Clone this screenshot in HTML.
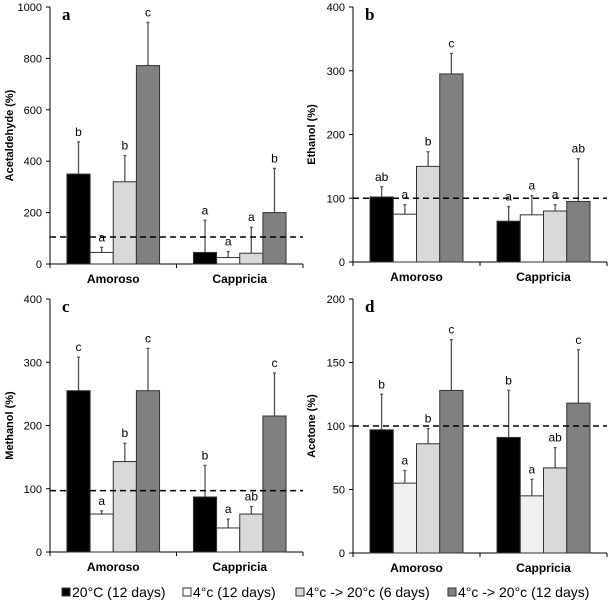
<!DOCTYPE html>
<html><head><meta charset="utf-8"><style>
body{margin:0;background:#fff;}
svg{display:block;font-family:"Liberation Sans",sans-serif;}
</style></head><body>
<svg id="chart" width="610" height="601" viewBox="0 0 610 601"></svg>
<script>
const categories = ["Amoroso","Cappricia"];
const seriesNames = ["20°C (12 days)","4°c (12 days)","4°c -> 20°c (6 days)","4°c -> 20°c (12 days)"];
const acetMeans = [[350,45,320,772],[45,25,42,200]];
const acetErr = [[475,65,422,940],[170,48,143,372]];
const acetLetters = [["b","a","b","c"],["a","a","a","b"]];
const ethMeans = [[102,75,150,295],[64,74,80,95]];
const ethErr = [[118,90,173,327],[87,104,90,162]];
const ethLetters = [["ab","a","b","c"],["a","a","a","ab"]];
const methMeans = [[255,60,143,255],[87,38,60,215]];
const methErr = [[308,65,172,322],[137,52,72,283]];
const methLetters = [["c","a","b","c"],["b","a","ab","c"]];
const aceMeans = [[97,55,86,128],[91,45,67,118]];
const aceErr = [[125,65,98,168],[128,58,83,160]];
const aceLetters = [["b","a","b","c"],["b","a","ab","c"]];
const acetTicks = [0,200,400,600,800,1000];
const ethTicks = [0,100,200,300,400];
const methTicks = [0,100,200,300,400];
const aceTicks = [0,50,100,150,200];
const refLines = [105,100,97,100];

const svg = document.getElementById('chart');
const NS = "http://www.w3.org/2000/svg";
function mk(tag, attrs, parent){const e=document.createElementNS(NS,tag);for(const k in attrs)e.setAttribute(k,attrs[k]);(parent||svg).appendChild(e);return e;}

const fills = ["#000000","#ffffff","#d9d9d9","#808080"];
const panels = [
 {id:"a",title:"Acetaldehyde (%)",tx:13,x0:50,x1:303,top:7,bot:264,max:1000,ticks:acetTicks,m:acetMeans,e:acetErr,l:acetLetters,ref:refLines[0],white:"#ffffff"},
 {id:"b",title:"Ethanol (%)",tx:315,x0:353,x1:607,top:7,bot:262,max:400,ticks:ethTicks,m:ethMeans,e:ethErr,l:ethLetters,ref:refLines[1],white:"#ffffff"},
 {id:"c",title:"Methanol (%)",tx:13,x0:50,x1:303,top:299,bot:552,max:400,ticks:methTicks,m:methMeans,e:methErr,l:methLetters,ref:refLines[2],white:"#ffffff"},
 {id:"d",title:"Acetone (%)",tx:315,x0:353,x1:607,top:299,bot:553,max:200,ticks:aceTicks,m:aceMeans,e:aceErr,l:aceLetters,ref:refLines[3],white:"#f0f0f0"}
];
panels.forEach(p=>{
  const g = mk('g',{});
  
  
  const y = v => p.bot - v/p.max*(p.bot-p.top);
  const cw = (p.x1-p.x0)/categories.length;
  const bw = cw*0.183;
  const ax = mk('line',{x1:p.x0,y1:p.top,x2:p.x0,y2:p.bot,stroke:"#000","stroke-width":1},g);
   
  const xa = mk('line',{x1:p.x0,y1:p.bot,x2:p.x1,y2:p.bot,stroke:"#000","stroke-width":1},g);
   
  for(let i=0;i<=categories.length;i++){
    mk('line',{x1:p.x0+i*cw,y1:p.bot,x2:p.x0+i*cw,y2:p.bot+4,stroke:"#000"},g);
  }
  p.ticks.forEach(t=>{
    mk('line',{x1:p.x0-4,y1:y(t),x2:p.x0,y2:y(t),stroke:"#000"},g);
    const tl = mk('text',{x:p.x0-8,y:y(t)+4,"text-anchor":"end","font-size":11},g);
    tl.textContent=t;
     
  });
  const yt = mk('text',{x:0,y:0,"text-anchor":"middle","font-size":11,"font-weight":"bold",transform:`translate(${p.tx},${(p.top+p.bot)/2}) rotate(-90)`},g);
  yt.textContent=p.title;
   
  const pl = mk('text',{x:p.x0+12,y:p.top+13,"font-size":17,"font-weight":"bold","font-family":"Liberation Serif, serif"},g);
  pl.textContent=p.id;
   
  categories.forEach((c,ci)=>{
    const cx = p.x0 + cw*(ci+0.5);
    const cl = mk('text',{x:cx,y:p.bot+19,"text-anchor":"middle","font-size":12,"font-weight":"bold"},g);
    cl.textContent=c;
     
    for(let s=0;s<4;s++){
      const bx = cx - 2*bw + s*bw;
      const v = p.m[ci][s], ev = p.e[ci][s];
      const er = mk('line',{x1:bx+bw/2,y1:y(v),x2:bx+bw/2,y2:y(ev),stroke:"#555","stroke-width":1.3},g);
       
      mk('line',{x1:bx+bw/2-1.5,y1:y(ev),x2:bx+bw/2+1.5,y2:y(ev),stroke:"#555","stroke-width":1.3},g);
      const r = mk('rect',{x:bx,y:y(v),width:bw,height:p.bot-y(v),fill:s===1?p.white:fills[s],stroke:"#333","stroke-width":1},g);
      
      
      const lt = mk('text',{x:bx+bw/2,y:y(ev)-6,"text-anchor":"middle","font-size":12},g);
      lt.textContent=p.l[ci][s];
       
    }
  });
  const rl = mk('line',{x1:p.x0,y1:y(p.ref),x2:p.x1,y2:y(p.ref),stroke:"#000","stroke-width":1.5,"stroke-dasharray":"6,4"},g);
   
});
const lg = mk('g',{});
 
const lx = [62,183,296,448];
seriesNames.forEach((n,i)=>{
  const e = mk('g',{},lg);
   
  mk('rect',{x:lx[i],y:588,width:8,height:8,fill:fills[i],stroke:"#333"},e);
  const t = mk('text',{x:lx[i]+10,y:597,"font-size":14},e);
  t.textContent=n;
});
</script>
</body></html>
